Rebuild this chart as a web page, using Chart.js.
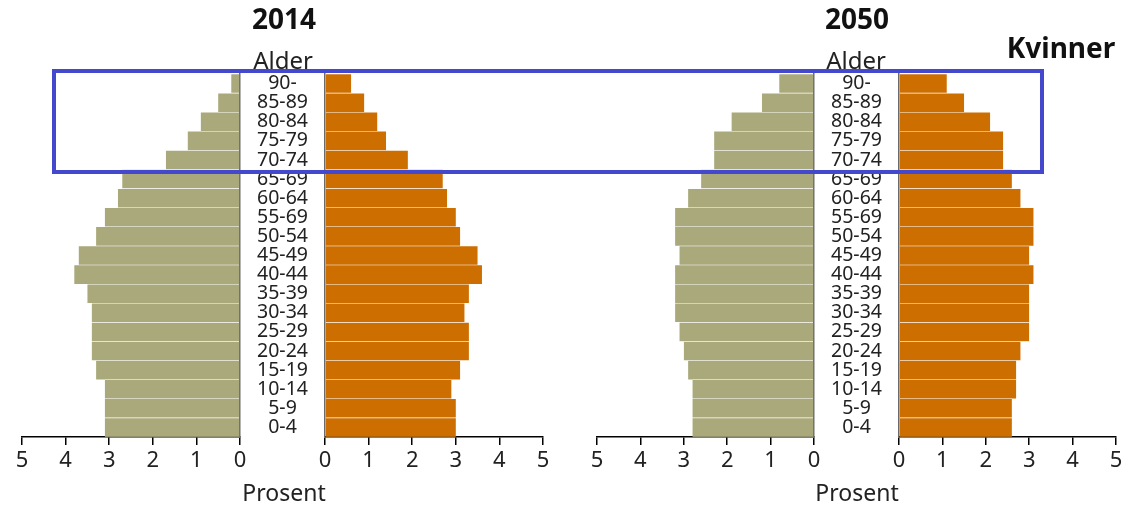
<!DOCTYPE html>
<html>
<head>
<meta charset="utf-8">
<script src="https://cdn.jsdelivr.net/npm/chart.js@4/dist/chart.umd.min.js"></script>
<style>
  html, body { margin:0; padding:0; background:#fff; }
  #wrap { position:relative; width:1129px; height:505px; background:#fff; overflow:hidden;
          font-family:"Noto Sans", "Open Sans", sans-serif; color:#1a1a1a; }
  canvas { position:absolute; }
  .t { position:absolute; transform:translate(-50%,-50%); white-space:nowrap; }
  .title { font-weight:bold; font-size:28px; color:#111; }
  .lab { font-size:23px; color:#222; }
  #box { position:absolute; left:52px; top:69px; width:992px; height:105px;
         border:4px solid #4448cc; box-sizing:border-box; pointer-events:none; }
</style>
</head>
<body>
<div id="wrap">
  <canvas id="l2014"></canvas>
  <canvas id="r2014"></canvas>
  <canvas id="l2050"></canvas>
  <canvas id="r2050"></canvas>
  <div class="t title" style="left:284px;top:18px;">2014</div>
  <div class="t title" style="left:857px;top:18px;">2050</div>
  <div class="t lab" style="left:283px;top:59px;font-size:24px;">Alder</div>
  <div class="t lab" style="left:856px;top:59px;font-size:24px;">Alder</div>
  <div class="t lab" style="left:284px;top:492px;">Prosent</div>
  <div class="t lab" style="left:857px;top:492px;">Prosent</div>
  <div class="t title" style="left:1061px;top:47px;">Kvinner</div>
  <div id="box"></div>
</div>
<script>
// ---- data (top row first) ----
const ageGroups = ["90-","85-89","80-84","75-79","70-74","65-69","60-64","55-69","50-54","45-49","40-44","35-39","30-34","25-29","20-24","15-19","10-14","5-9","0-4"];
const men2014   = [0.2,0.5,0.9,1.2,1.7,2.7,2.8,3.1,3.3,3.7,3.8,3.5,3.4,3.4,3.4,3.3,3.1,3.1,3.1];
const women2014 = [0.6,0.9,1.2,1.4,1.9,2.7,2.8,3.0,3.1,3.5,3.6,3.3,3.2,3.3,3.3,3.1,2.9,3.0,3.0];
const men2050   = [0.8,1.2,1.9,2.3,2.3,2.6,2.9,3.2,3.2,3.1,3.2,3.2,3.2,3.1,3.0,2.9,2.8,2.8,2.8];
const women2050 = [1.1,1.5,2.1,2.4,2.4,2.6,2.8,3.1,3.1,3.0,3.1,3.0,3.0,3.0,2.8,2.7,2.7,2.6,2.6];
const xMin = 0, xMax = 5, xStep = 1;

// ---- styling / layout ----
const FONT = '"Noto Sans", "Open Sans", sans-serif';
const OLIVE = '#a9a97b', ORANGE = '#cd6e00';
const TOP = 74, BOTTOM = 437, PADT = 44, XAXIS_H = 56, SIDE = 12;
const AGE_FONT_SIZE = 19.5;

function measureWidest(labels, size) {
  const c = document.createElement('canvas').getContext('2d');
  c.font = size + 'px ' + FONT;
  return Math.max(...labels.map(l => c.measureText(l).width));
}
const widest = measureWidest(ageGroups, AGE_FONT_SIZE);

function xScale(reverse) {
  return {
    type: 'linear', min: xMin, max: xMax, reverse: reverse,
    ticks: { stepSize: xStep, color: '#222', padding: 3, font: { family: FONT, size: 22 } },
    grid: { display: true, drawOnChartArea: false, drawTicks: true, tickLength: 8, color: '#000', lineWidth: 1.5 },
    border: { display: true, color: '#000', width: 1.5 },
    afterFit: s => { s.height = XAXIS_H; }
  };
}

function makeChart(id, values, color, side, xa, xb) {
  const cv = document.getElementById(id);
  const isLeft = side === 'left';
  const gap = 85;
  let left, width;
  if (isLeft) { left = xa - SIDE; width = (xb - xa) + 2 * SIDE; }
  else { left = xa - gap; width = gap + (xb - xa) + SIDE; }
  const height = PADT + (BOTTOM - TOP) + XAXIS_H;
  cv.width = width; cv.height = height;
  cv.style.left = left + 'px'; cv.style.top = (TOP - PADT) + 'px';
  cv.style.width = width + 'px'; cv.style.height = height + 'px';
  const sep = isLeft ? 'rgba(255,255,255,0.28)' : 'rgba(255,255,255,0.22)';
  return new Chart(cv, {
    type: 'bar',
    data: {
      labels: ageGroups,
      datasets: [{
        data: values,
        backgroundColor: color,
        borderColor: sep,
        borderWidth: { top: 0.6, bottom: 0.6, left: 0, right: 0 },
        borderSkipped: false,
        barPercentage: 1, categoryPercentage: 1
      }]
    },
    options: {
      indexAxis: 'y', responsive: false, animation: false, devicePixelRatio: 1,
      layout: { padding: isLeft ? { left: SIDE, right: SIDE, top: PADT, bottom: 0 }
                                : { left: 0, right: SIDE, top: PADT, bottom: 0 } },
      plugins: { legend: { display: false }, tooltip: { enabled: false } },
      scales: {
        x: xScale(isLeft),
        y: {
          type: 'category', position: isLeft ? 'right' : 'left',
          grid: { display: false, drawTicks: false },
          border: { display: true, color: '#6a6a6a', width: 1.5 },
          ticks: isLeft ? { display: false } : {
            display: true, crossAlign: 'center', padding: gap / 2 - widest / 2,
            color: '#222', font: { family: FONT, size: AGE_FONT_SIZE }, autoSkip: false
          },
          afterFit: s => { s.width = isLeft ? 0 : gap; }
        }
      }
    }
  });
}

makeChart('l2014', men2014, OLIVE, 'left', 22, 240);
makeChart('r2014', women2014, ORANGE, 'right', 325, 543);
makeChart('l2050', men2050, OLIVE, 'left', 597, 814);
makeChart('r2050', women2050, ORANGE, 'right', 899, 1116);
</script>
</body>
</html>
